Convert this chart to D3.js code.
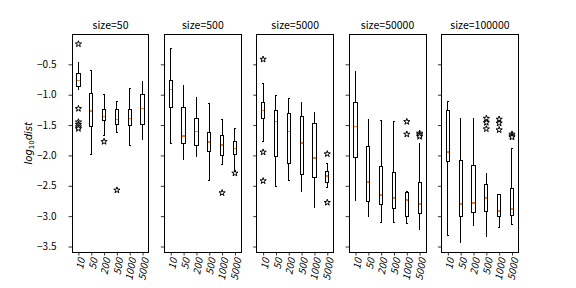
<!DOCTYPE html>
<html>
<head>
<meta charset="utf-8">
<script src="https://cdn.jsdelivr.net/npm/d3@7"></script>
<style>
  body { margin: 0; background: #fff; }
  svg { display: block; }
</style>
</head>
<body>
<div id="chart"></div>
<script>
// panel titles and box categories
const sizes = [50, 500, 5000, 50000, 100000];
const groups = ["10", "50", "200", "500", "1000", "5000"];
const yTicks = [-3.5, -3.0, -2.5, -2.0, -1.5, -1.0, -0.5];

// box statistics, one row per panel (log10 dist)
const whiskerHigh = [
    [-0.467, -0.599, -0.999, -1.108, -0.900, -0.780],
    [-0.237, -0.845, -1.043, -1.141, -1.416, -1.553],
    [-0.813, -1.010, -1.059, -1.125, -1.295, -2.128],
    [-0.615, -1.405, -1.421, -1.438, -2.594, -1.799],
    [-1.108, -1.388, -1.388, -2.293, -2.638, -1.882]
];
const q3 = [
    [-0.648, -0.982, -1.240, -1.240, -1.240, -0.999],
    [-0.763, -1.213, -1.399, -1.618, -1.668, -1.766],
    [-1.125, -1.257, -1.306, -1.355, -1.470, -2.260],
    [-1.125, -1.849, -2.178, -2.276, -2.605, -2.441],
    [-1.257, -2.079, -2.161, -2.474, -2.638, -2.539]
];
const median = [
    [-0.763, -1.268, -1.355, -1.405, -1.388, -1.224],
    [-0.911, -1.684, -1.602, -1.783, -1.832, -1.882],
    [-1.257, -1.438, -1.602, -1.799, -2.046, -2.342],
    [-1.520, -2.441, -2.655, -2.704, -2.737, -2.803],
    [-1.947, -2.803, -2.786, -2.704, -2.918, -2.885]
];
const q1 = [
    [-0.862, -1.531, -1.420, -1.487, -1.503, -1.487],
    [-1.207, -1.799, -1.832, -1.931, -1.997, -1.980],
    [-1.399, -2.013, -2.128, -2.320, -2.359, -2.441],
    [-2.030, -2.754, -2.803, -2.868, -3.000, -2.951],
    [-2.095, -3.000, -2.934, -2.918, -3.000, -2.984]
];
const whiskerLow = [
    [-0.911, -1.980, -1.668, -1.618, -1.838, -1.734],
    [-1.799, -2.063, -2.013, -2.408, -2.145, -2.243],
    [-1.766, -2.507, -2.408, -2.589, -2.852, -2.523],
    [-2.737, -3.000, -3.099, -3.099, -3.115, -3.214],
    [-3.313, -3.428, -3.148, -3.329, -3.181, -3.132]
];
const outliers = [
    [[-0.166, -1.23, -1.45, -1.49, -1.53, -1.56], [], [-1.772], [-2.572], [], []],
    [[], [], [], [], [-2.616], [-2.293]],
    [[-0.418, -1.947, -2.419], [], [], [], [], [-1.975, -2.775]],
    [[], [], [], [], [-1.444, -1.651], [-1.635, -1.662, -1.69]],
    [[], [], [], [-1.39, -1.46, -1.564], [-1.405, -1.47, -1.58], [-1.65, -1.68, -1.70]]
];

const width = 576, height = 288;
const margin = { top: 34.56, bottom: 36, left: 72, right: 57.6 };
const plotH = height - margin.top - margin.bottom;
const totalW = width - margin.left - margin.right;
const panelW = totalW / (5 + 4 * 0.2);
const gap = panelW * 0.2;
const font = "'Noto Sans CJK SC', 'DejaVu Sans', sans-serif";

const svg = d3.select("#chart")
    .append("svg")
    .attr("width", width)
    .attr("height", height);

const y = d3.scaleLinear()
    .domain([-3.59, -0.01])
    .range([plotH, 0]);

// y label
svg.append("text")
    .attr("transform", `translate(32,${margin.top + plotH / 2}) rotate(-90)`)
    .attr("text-anchor", "middle")
    .style("font-family", "'DejaVu Sans', sans-serif")
    .style("font-size", "10px")
    .style("font-style", "italic")
    .call(t => {
        t.append("tspan").text("log");
        t.append("tspan").attr("dy", 2).style("font-size", "7px").style("font-style", "normal").text("10");
        t.append("tspan").attr("dy", -2).text("dist");
    });

const star = d3.symbol().type(d3.symbolStar).size(12);

sizes.forEach((s, p) => {
    const x0 = margin.left + p * (panelW + gap);
    const g = svg.append("g").attr("transform", `translate(${x0},${margin.top})`);

    const x = d3.scaleLinear().domain([0.5, 6.5]).range([0, panelW]);
    const boxW = x(1.25) - x(1);
    const capW = boxW / 2;

    // y axis
    const yAxis = g.append("g")
        .call(d3.axisLeft(y).tickValues(yTicks).tickSize(3.5).tickPadding(p === 0 ? 12 : 3)
            .tickFormat(p === 0 ? d3.format(".1f") : ""));
    yAxis.select(".domain").remove();
    yAxis.selectAll("line").attr("stroke", "#000").attr("stroke-width", 0.8);
    yAxis.selectAll("text")
        .style("font-family", font)
        .style("font-size", "10px")
        .attr("fill", "#000");

    // x axis
    const xAxis = g.append("g")
        .attr("transform", `translate(0,${plotH})`)
        .call(d3.axisBottom(x).tickValues(d3.range(1, 7)).tickSize(3.5).tickFormat(""));
    xAxis.select(".domain").remove();
    xAxis.selectAll("line").attr("stroke", "#000").attr("stroke-width", 0.8);

    groups.forEach((lab, i) => {
        g.append("text")
            .attr("transform", `translate(${x(i + 1) + 2},${plotH + 6}) rotate(-80)`)
            .attr("text-anchor", "end")
            .attr("dominant-baseline", "central")
            .style("font-family", font)
            .style("font-size", "10px")
            .style("font-style", "italic")
            .text(lab);
    });

    // boxes
    groups.forEach((lab, i) => {
        const cx = x(i + 1);
        const line = (x1, y1, x2, y2, color, w) => g.append("line")
            .attr("x1", x1).attr("y1", y1).attr("x2", x2).attr("y2", y2)
            .attr("stroke", color || "#000").attr("stroke-width", w || 1)
            .attr("shape-rendering", "crispEdges");

        line(cx, y(whiskerHigh[p][i]), cx, y(q3[p][i]));
        line(cx, y(q1[p][i]), cx, y(whiskerLow[p][i]));
        line(cx - capW / 2, y(whiskerHigh[p][i]), cx + capW / 2, y(whiskerHigh[p][i]));
        line(cx - capW / 2, y(whiskerLow[p][i]), cx + capW / 2, y(whiskerLow[p][i]));

        g.append("rect")
            .attr("x", cx - boxW / 2)
            .attr("y", y(q3[p][i]))
            .attr("width", boxW)
            .attr("height", y(q1[p][i]) - y(q3[p][i]))
            .attr("fill", "none")
            .attr("stroke", "#000")
            .attr("stroke-width", 1)
            .attr("shape-rendering", "crispEdges");

        line(cx - boxW / 2 + 0.5, y(median[p][i]), cx + boxW / 2 - 0.5, y(median[p][i]), "#ff7f0e", 1.5);

        outliers[p][i].forEach(v => {
            g.append("path")
                .attr("d", star())
                .attr("transform", `translate(${cx},${y(v)})`)
                .attr("fill", "#fff")
                .attr("stroke", "#000")
                .attr("stroke-width", 1);
        });
    });

    // frame
    g.append("rect")
        .attr("width", panelW)
        .attr("height", plotH)
        .attr("fill", "none")
        .attr("stroke", "#000")
        .attr("stroke-width", 1)
        .attr("shape-rendering", "crispEdges");

    // title
    g.append("text")
        .attr("x", panelW / 2)
        .attr("y", -6)
        .attr("text-anchor", "middle")
        .style("font-family", font)
        .style("font-size", "10.5px")
        .text(`size=${s}`);
});
</script>
</body>
</html>
